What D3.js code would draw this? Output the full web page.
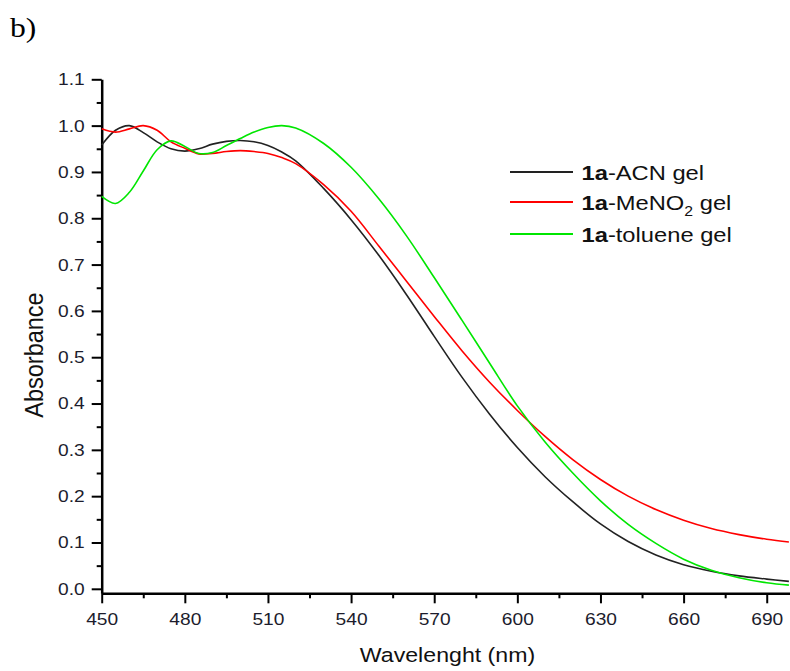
<!DOCTYPE html>
<html>
<head>
<meta charset="utf-8">
<script src="https://cdn.jsdelivr.net/npm/d3@7"></script>
<style>
  body { margin: 0; background: #fff; }
  svg { display: block; font-family: "Liberation Sans", Arial, sans-serif; }
</style>
</head>
<body>
<div id="chart"></div>
<script>
// wavelength grid (nm) and absorbance
var wavelengths = [450, 455, 460, 465, 470, 475, 480, 485, 490, 495, 500, 505, 510, 515, 520,
    530, 540, 550, 560, 570, 580, 590, 600, 610, 620, 630, 640, 650, 660, 670, 680, 690, 698];

var acnGel = [0.958, 0.990, 1.000, 0.985, 0.965, 0.950, 0.945, 0.950, 0.960, 0.966, 0.968, 0.965, 0.957, 0.943, 0.924,
    0.865, 0.797, 0.720, 0.635, 0.545, 0.457, 0.377, 0.305, 0.242, 0.188, 0.140, 0.102, 0.073, 0.052, 0.038, 0.028, 0.021, 0.016];

var meno2Gel = [0.993, 0.986, 0.993, 1.000, 0.990, 0.965, 0.951, 0.939, 0.940, 0.944, 0.946, 0.944, 0.940, 0.931, 0.918,
    0.873, 0.815, 0.740, 0.664, 0.588, 0.514, 0.446, 0.385, 0.329, 0.279, 0.236, 0.200, 0.171, 0.148, 0.130, 0.117, 0.107, 0.101];

var tolueneGel = [0.847, 0.832, 0.856, 0.902, 0.948, 0.967, 0.955, 0.940, 0.942, 0.957, 0.972, 0.986, 0.996, 1.000, 0.995,
    0.962, 0.910, 0.842, 0.762, 0.672, 0.580, 0.487, 0.395, 0.317, 0.250, 0.190, 0.139, 0.098, 0.064, 0.040, 0.024, 0.013, 0.008];

var seriesNames = ["-ACN gel", "-MeNO", "-toluene gel"];
var seriesColors = ["#222222", "#ff0000", "#00e600"];
var xTicks = [450, 480, 510, 540, 570, 600, 630, 660, 690];
var xMinorTicks = [465, 495, 525, 555, 585, 615, 645, 675];
var yTicks = [0.0, 0.1, 0.2, 0.3, 0.4, 0.5, 0.6, 0.7, 0.8, 0.9, 1.0, 1.1];
var yMinorTicks = [0.05, 0.15, 0.25, 0.35, 0.45, 0.55, 0.65, 0.75, 0.85, 0.95, 1.05];

var w = 790, h = 671;
var SX = 1.13; // text in the picture is a bit wider than plain Arial

var svg = d3.select("#chart").append("svg")
    .attr("width", w)
    .attr("height", h);

var x = d3.scaleLinear().domain([450, 698.4]).range([101.7, 790]);
var y = d3.scaleLinear().domain([-0.0097, 1.1]).range([593.3, 79.3]);

// panel letter
svg.append("text")
    .attr("transform", "translate(10,37) scale(" + SX + ",1)")
    .style("font-family", "'Liberation Serif', 'Times New Roman', serif")
    .style("font-size", "28px")
    .attr("fill", "#000")
    .text("b)");

// minor ticks first, major axes on top
svg.append("g")
    .attr("transform", "translate(0," + y.range()[0] + ")")
    .call(d3.axisBottom(x).tickValues(xMinorTicks).tickSize(5).tickSizeOuter(0).tickFormat(""))
    .call(g => g.select(".domain").remove());

svg.append("g")
    .attr("transform", "translate(" + x.range()[0] + ",0)")
    .call(d3.axisLeft(y).tickValues(yMinorTicks).tickSize(5).tickSizeOuter(0).tickFormat(""))
    .call(g => g.select(".domain").remove());

var xaxis = svg.append("g")
    .attr("class", "xaxis")
    .attr("transform", "translate(0," + y.range()[0] + ")")
    .call(d3.axisBottom(x).tickValues(xTicks).tickSize(10).tickPadding(10).tickSizeOuter(0).tickFormat(d3.format("d")));

var yaxis = svg.append("g")
    .attr("class", "yaxis")
    .attr("transform", "translate(" + x.range()[0] + ",0)")
    .call(d3.axisLeft(y).tickValues(yTicks).tickSize(10).tickPadding(7).tickSizeOuter(0).tickFormat(d3.format(".1f")));

svg.selectAll(".tick line").attr("stroke", "#000").attr("stroke-width", 2);
svg.selectAll(".domain").attr("stroke", "#000").attr("stroke-width", 2.5);

svg.selectAll(".xaxis .tick text")
    .attr("transform", "scale(" + SX + ",1)");
svg.selectAll(".yaxis .tick text")
    .attr("transform", function () {
        return "translate(" + d3.select(this).attr("x") + ",0) scale(" + SX + ",1)";
    })
    .attr("x", 0);
svg.selectAll(".tick text")
    .style("font-family", "'Liberation Sans', Arial, sans-serif")
    .style("font-size", "17px")
    .attr("fill", "#1c1c2c");

// axis titles
svg.append("text")
    .attr("transform", "translate(447.5,662) scale(" + SX + ",1)")
    .attr("text-anchor", "middle")
    .style("font-size", "20.5px")
    .attr("fill", "#111")
    .text("Wavelenght (nm)");

svg.append("text")
    .attr("transform", "translate(43,355) scale(" + SX + ",1) rotate(-90)")
    .attr("text-anchor", "middle")
    .style("font-size", "23.5px")
    .attr("fill", "#111")
    .text("Absorbance");

// spectra
var line = d3.line()
    .x(d => x(d[0]))
    .y(d => y(d[1]))
    .curve(d3.curveCatmullRom.alpha(0.5));

var allSeries = [acnGel, meno2Gel, tolueneGel];
svg.append("g")
    .selectAll("path")
    .data(allSeries)
    .enter().append("path")
    .attr("d", vals => line(wavelengths.map((wl, i) => [wl, vals[i]])))
    .attr("fill", "none")
    .attr("stroke", (d, i) => seriesColors[i])
    .attr("stroke-width", 1.6);

// legend
var legendY = [172, 202, 234];
var legend = svg.append("g");
seriesNames.forEach(function (name, i) {
    legend.append("line")
        .attr("x1", 510).attr("x2", 573)
        .attr("y1", legendY[i]).attr("y2", legendY[i])
        .attr("stroke", seriesColors[i])
        .attr("stroke-width", 2);
    var t = legend.append("text")
        .attr("transform", "translate(581.5," + (legendY[i] + 8) + ") scale(" + SX + ",1)")
        .style("font-size", "21px")
        .attr("fill", "#111");
    t.append("tspan").style("font-weight", "bold").text("1a");
    t.append("tspan").text(name);
    if (i == 1) {
        t.append("tspan").attr("dy", 6).style("font-size", "14px").text("2");
        t.append("tspan").attr("dy", -6).text(" gel");
    }
});
</script>
</body>
</html>
